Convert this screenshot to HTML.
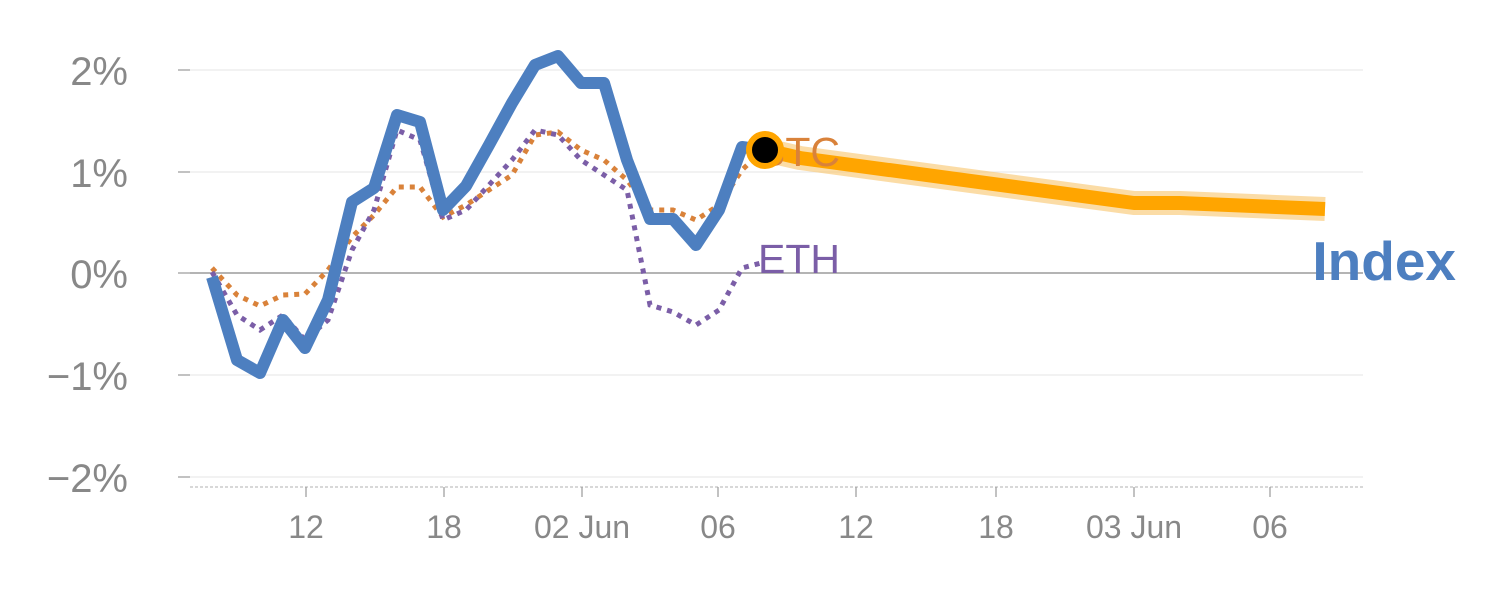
<!DOCTYPE html>
<html><head><meta charset="utf-8"><style>
html,body{margin:0;padding:0;background:#fff;}
svg{display:block;font-family:"Liberation Sans",sans-serif;}
</style></head><body>
<svg width="1500" height="600" viewBox="0 0 1500 600">
<g stroke="#e6e6e6" stroke-width="1">
<line x1="190" y1="70" x2="1363" y2="70"/>
<line x1="190" y1="172" x2="1363" y2="172"/>
<line x1="190" y1="375" x2="1363" y2="375"/>
<line x1="190" y1="477" x2="1363" y2="477"/>
</g>
<line x1="190" y1="273" x2="1363" y2="273" stroke="#888" stroke-width="1.2"/>
<line x1="190" y1="487" x2="1363" y2="487" stroke="#ccc" stroke-width="1.5" stroke-dasharray="3,2"/>
<g stroke="#999" stroke-width="1.2">
<line x1="178" y1="70" x2="190" y2="70"/><line x1="178" y1="172" x2="190" y2="172"/>
<line x1="178" y1="273" x2="190" y2="273"/><line x1="178" y1="375" x2="190" y2="375"/>
<line x1="178" y1="477" x2="190" y2="477"/>
<line x1="306" y1="487" x2="306" y2="497"/><line x1="444" y1="487" x2="444" y2="497"/>
<line x1="582" y1="487" x2="582" y2="497"/><line x1="718" y1="487" x2="718" y2="497"/>
<line x1="856" y1="487" x2="856" y2="497"/><line x1="996" y1="487" x2="996" y2="497"/>
<line x1="1134" y1="487" x2="1134" y2="497"/><line x1="1270" y1="487" x2="1270" y2="497"/>
</g>
<g fill="#888" font-size="40" text-anchor="end">
<text x="128" y="85">2%</text><text x="128" y="187">1%</text><text x="128" y="288">0%</text>
<text x="128" y="390">−1%</text><text x="128" y="492">−2%</text>
</g>
<g fill="#888" font-size="32" text-anchor="middle">
<text x="306" y="538">12</text><text x="444" y="538">18</text><text x="582" y="538">02 Jun</text>
<text x="718" y="538">06</text><text x="856" y="538">12</text><text x="996" y="538">18</text>
<text x="1134" y="538">03 Jun</text><text x="1270" y="538">06</text>
</g>
<polyline fill="none" stroke="#f9c46b" stroke-opacity="0.6" stroke-width="24" stroke-linejoin="round" points="765,150 800,158 1134,203 1180,203 1325,209"/>
<polyline fill="none" stroke="#ffa500" stroke-width="14" stroke-linejoin="round" points="765,150 800,158 1134,203 1180,203 1325,209"/>
<polyline fill="none" stroke="#d9823a" stroke-width="5" stroke-dasharray="5,6" points="212,268 237,295 260,306 283,295 305,294 328,270 352,237 374,215 397,187 420,187 443,217 466,205 489,190 512,175 535,135 558,132 581,150 604,160 627,180 650,210 673,210 696,220 719,205 742,170 765,148"/>
<polyline fill="none" stroke="#7b5ea7" stroke-width="5" stroke-dasharray="5,6" points="212,272 237,315 260,330 283,315 305,340 328,320 352,250 374,210 397,130 420,140 443,220 466,210 489,185 512,160 535,130 558,135 581,160 604,175 627,190 650,305 673,312 696,325 719,310 742,268 765,262"/>
<polyline fill="none" stroke="#4d7fc0" stroke-width="12" stroke-linejoin="round" points="212,277 237,360 260,373 283,320 305,348 328,300 352,202 374,188 397,115 420,122 443,210 466,186 489,145 512,103 535,65 558,56 581,83 604,83 627,160 650,219 673,219 696,245 719,210 742,147 765,150"/>
<text x="758" y="166" fill="#d9823a" font-size="41">BTC</text>
<text x="758" y="273" fill="#7b5ea7" font-size="41">ETH</text>
<circle cx="765" cy="150" r="16" fill="#000" stroke="#ffa500" stroke-width="6"/>
<text x="1456" y="280" fill="#4d7fc0" font-size="55" font-weight="bold" text-anchor="end">Index</text>
</svg>
</body></html>
